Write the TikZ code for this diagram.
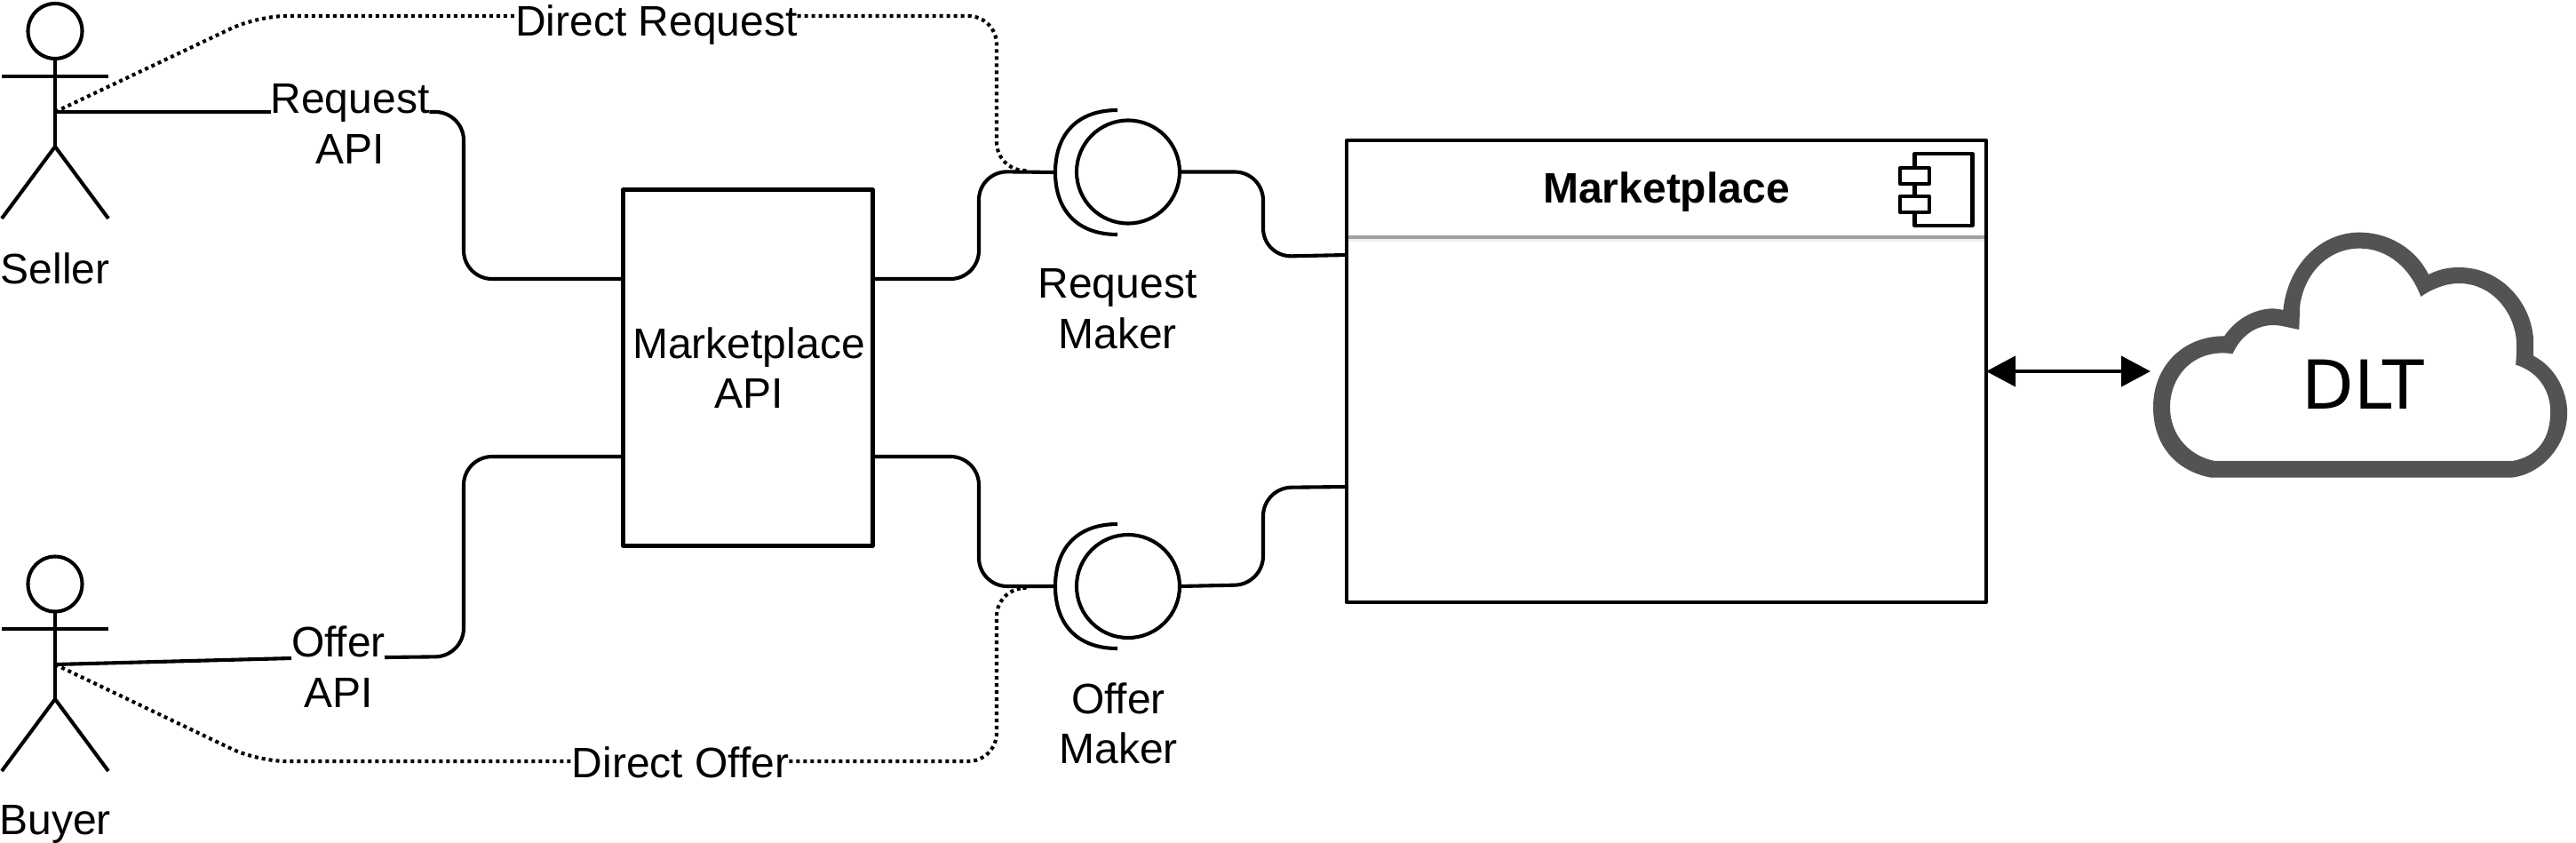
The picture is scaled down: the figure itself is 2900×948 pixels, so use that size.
\documentclass[tikz,border=0pt]{standalone}
\usepackage{fontspec}
\setmainfont{Liberation Sans}
\newfontfamily\dltfont{DejaVu Sans}
\usetikzlibrary{arrows.meta,shapes.geometric}
\definecolor{cloudgrey}{HTML}{535353}
\definecolor{rulegrey}{HTML}{A0A0A0}
\definecolor{rulelight}{HTML}{EEEEEE}
\tikzset{
  wire/.style={line width=4.1pt,draw=black,line join=round},
  bentwire/.style={wire,rounded corners=32pt},
  dotline/.style={wire,rounded corners=32pt,dash pattern=on 4pt off 4pt},
  txt/.style={font=\fontsize{48}{56.5}\selectfont,inner sep=0pt,outer sep=0pt,align=center,anchor=base},
  boxshape/.style={wire,rectangle,fill=white,inner sep=0pt,outer sep=0pt},
  ballshape/.style={wire,circle,minimum size=116pt,inner sep=0pt,outer sep=0pt},
  headshape/.style={wire,ellipse,minimum width=61pt,minimum height=62pt,inner sep=0pt,outer sep=0pt},
  twoway/.style={wire,{Triangle[length=33pt,width=34pt]}-{Triangle[length=33pt,width=34pt]}}
}
\begin{document}
\begin{tikzpicture}[x=1pt,y=-1pt]
\useasboundingbox[fill=white] (0,0) rectangle (2900,948);

% actors
\node[headshape] (sellerHead) at (62,35) {};
\coordinate (sellerHip) at (62,165);
\coordinate (sellerHand) at (62,126);
\draw[wire] (sellerHead.south) -- (sellerHip);
\coordinate (sellerArmL) at (2,86);
\coordinate (sellerArmR) at (122,86);
\draw[wire] (sellerArmL) -- (sellerArmR);
\coordinate (sellerFootL) at (2,246);
\coordinate (sellerFootR) at (122,246);
\draw[wire] (sellerFootL) -- (sellerHip) -- (sellerFootR);
\node[txt] (sellerText) at (62,319) {Seller};

\node[headshape] (buyerHead) at (62,657.5) {};
\coordinate (buyerHip) at (62,787);
\coordinate (buyerHand) at (62,748);
\draw[wire] (buyerHead.south) -- (buyerHip);
\coordinate (buyerArmL) at (2,708);
\coordinate (buyerArmR) at (122,708);
\draw[wire] (buyerArmL) -- (buyerArmR);
\coordinate (buyerFootL) at (2,868);
\coordinate (buyerFootR) at (122,868);
\draw[wire] (buyerFootL) -- (buyerHip) -- (buyerFootR);
\node[txt] (buyerText) at (62,939) {Buyer};

% boxes
\node[boxshape,draw,minimum width=281pt,minimum height=401pt] (api) at (842,414) {};
\node[txt] (apiText) at (843,403) {Marketplace};
\node[txt] (apiTextB) at (843,459) {API};
\node[boxshape,draw,minimum width=720pt,minimum height=520pt] (mp) at (1876,418) {};
\fill[rulegrey] (1518,264.5) rectangle (2234,268.5);
\fill[rulelight] (1518,268.5) rectangle (2234,272);
\node[txt,font=\fontsize{48}{56.5}\selectfont\bfseries] (mpTitle) at (1876,228) {Marketplace};

% component icon
\node[boxshape,draw,minimum width=65pt,minimum height=81pt] (iconBody) at (2188,213.5) {};
\node[boxshape,draw,minimum width=33pt,minimum height=18pt] (iconPortA) at (2155.5,198) {};
\node[boxshape,draw,minimum width=33pt,minimum height=18pt] (iconPortB) at (2155.5,230) {};

% ball and socket
\node[ballshape] (rqBall) at (1270,193.5) {};
\coordinate (rqSock) at (1188,194);
\draw[wire] (1258,124) .. controls (1212,124) and (1188,152) .. (rqSock) .. controls (1188,236) and (1212,264) .. (1258,264);
\node[ballshape] (ofBall) at (1270,660) {};
\coordinate (ofSock) at (1188,660);
\draw[wire] (1258,590) .. controls (1212,590) and (1188,618) .. (ofSock) .. controls (1188,702) and (1212,730) .. (1258,730);

% labels
\node[txt] (rqLabel) at (394,127) {Request};
\node[txt] (rqLabelB) at (394,184) {API};
\node[txt] (ofLabel) at (381,739) {Offer};
\node[txt] (ofLabelB) at (381,796) {API};
\node[txt] (dirRq) at (739,40) {Direct Request};
\node[txt] (dirOf) at (766,875) {Direct Offer};
\node[txt] (rqMaker) at (1258,335) {Request};
\node[txt] (rqMakerB) at (1258,392) {Maker};
\node[txt] (ofMaker) at (1259,803) {Offer};
\node[txt] (ofMakerB) at (1259,859.5) {Maker};

% attachment points on the boxes
\coordinate (apiWA) at (702,314);
\coordinate (apiWB) at (702,514);
\coordinate (apiEA) at (982,314);
\coordinate (apiEB) at (982,514);
\coordinate (mpWA) at (1516,287);
\coordinate (mpWB) at (1516,548);

% solid connectors
\draw[wire] (sellerHand) -- (rqLabel.west |- sellerHand);
\draw[bentwire] (rqLabel.east |- sellerHand) -- (522,126) -- (522,314) -- (apiWA);
\draw[wire] (buyerHand) -- (328,741);
\draw[bentwire] (433,740) -- (522,739) -- (522,514) -- (apiWB);
\draw[bentwire] (apiEA) -- (1102,314) -- (1102,193) -- (rqSock);
\draw[bentwire] (apiEB) -- (1102,514) -- (1102,660) -- (ofSock);
\draw[bentwire] (rqBall.east) -- (1422,193.5) -- (1422,289) -- (mpWA);
\draw[bentwire] (ofBall.east) -- (1422,658) -- (1422,549) -- (mpWB);

% dotted connectors
\draw[dotline] (sellerHand) -- (290,18) -- (dirRq.west |- 0,18);
\draw[dotline] (dirRq.east |- 0,18) -- (1122,18) -- (1122,192) -- (1150,192);
\draw[dotline] (buyerHand) -- (290,857) -- (dirOf.west |- 0,857);
\draw[dotline] (dirOf.east |- 0,857) -- (1122,857) -- (1122,662) -- (1150,662);

% cloud
\begin{scope}[shift={(2050,130)},x=0.542pt,y=-0.3333pt]
\fill[cloudgrey,even odd rule]
  (810,1223) .. controls (735,1200) and (690,1110) .. (690,985)
  .. controls (690,850) and (750,745) .. (838,745)
  .. controls (860,690) and (900,652) .. (940,652)
  .. controls (947,652) and (953,655) .. (960,657)
  .. controls (970,500) and (1040,395) .. (1118,395)
  .. controls (1180,395) and (1235,450) .. (1262,537)
  .. controls (1280,522) and (1300,513) .. (1325,513)
  .. controls (1415,513) and (1480,640) .. (1480,770)
  .. controls (1480,785) and (1480,800) .. (1480,812)
  .. controls (1525,850) and (1550,930) .. (1550,1005)
  .. controls (1550,1110) and (1500,1210) .. (1435,1223) -- cycle
  (818,1167) .. controls (765,1150) and (725,1080) .. (725,985)
  .. controls (725,880) and (775,785) .. (855,805)
  .. controls (870,750) and (900,708) .. (940,708)
  .. controls (955,708) and (975,718) .. (993,723)
  .. controls (994,695) and (994,665) .. (995,640)
  .. controls (1005,530) and (1055,449) .. (1118,449)
  .. controls (1180,449) and (1225,520) .. (1246,612)
  .. controls (1265,590) and (1295,567) .. (1325,567)
  .. controls (1395,567) and (1445,670) .. (1445,780)
  .. controls (1445,800) and (1444,820) .. (1443,842)
  .. controls (1490,865) and (1515,930) .. (1515,1000)
  .. controls (1515,1090) and (1490,1150) .. (1437,1167) -- cycle;
\end{scope}
\node[txt,font=\fontsize{76}{90}\selectfont\dltfont] (cloudText) at (2660,460) {DLT};
\coordinate (cloudW) at (2421,418);
\draw[twoway] (mp.east) -- (cloudW);
\end{tikzpicture}
\end{document}
